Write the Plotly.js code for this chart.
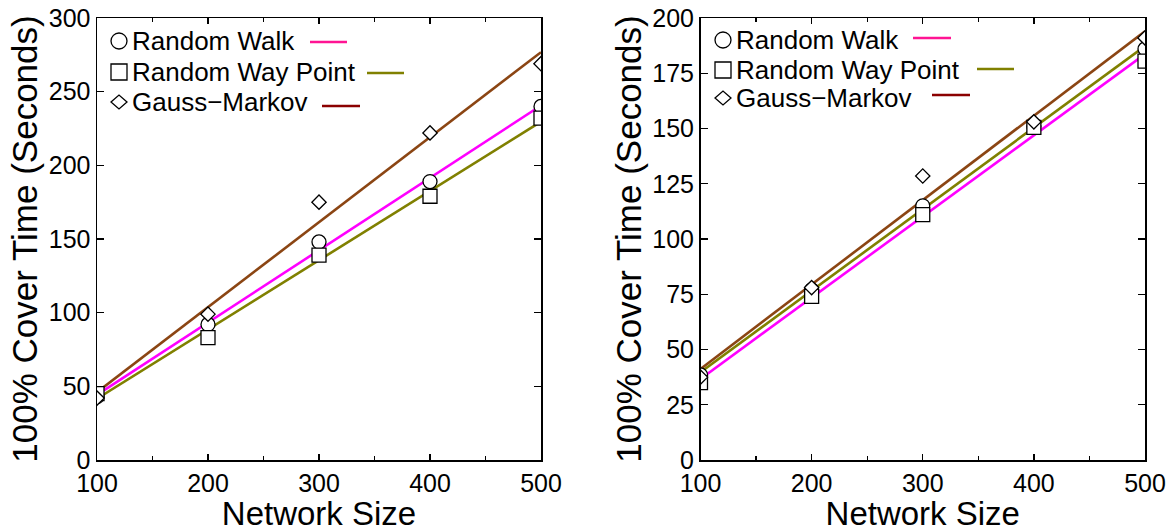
<!DOCTYPE html>
<html>
<head>
<meta charset="utf-8">
<script src="https://cdn.plot.ly/plotly-3.0.1.min.js"></script>
<style>html,body{margin:0;padding:0;background:#fff;}#chart{width:1175px;height:532px;}</style>
</head>
<body>
<div id="chart"></div>
<script>
// ---- data ----
const networkSizes = [100, 200, 300, 400, 500];
const seriesNames = ["Random Walk", "Random Way Point", "Gauss\u2212Markov"];
// left panel
const leftRandomWalk     = [43, 92, 148, 189, 240];
const leftRandomWayPoint = [45, 83, 139, 179, 232];
const leftGaussMarkov    = [42, 99, 175, 222, 269];
// right panel
const rightRandomWalk     = [38.5, 77, 115, 151, 186];
const rightRandomWayPoint = [35, 74, 111, 150.5, 180.5];
const rightGaussMarkov    = [37.5, 78, 128.5, 153, 191];
const leftYTicks = [0, 50, 100, 150, 200, 250, 300];
const rightYTicks = [0, 25, 50, 75, 100, 125, 150, 175, 200];
const xTicks = [100, 200, 300, 400, 500];

// ---- styling ----
const W = 1175, H = 532;
const px = x => x / W, py = y => 1 - y / H;
const FONT = "Liberation Sans, Arial, sans-serif";
const MAGENTA = "#ff00ff", OLIVE = "#808000", BROWN = "#8b4513";
const LEG_PINK = "#ff1493", LEG_OLIVE = "#808000", LEG_RED = "#8b0000";

function fit(xs, ys) {
  const n = xs.length;
  const mx = xs.reduce((a, b) => a + b, 0) / n;
  const my = ys.reduce((a, b) => a + b, 0) / n;
  let sxy = 0, sxx = 0;
  for (let i = 0; i < n; i++) { sxy += (xs[i] - mx) * (ys[i] - my); sxx += (xs[i] - mx) ** 2; }
  const b = sxy / sxx, a = my - b * mx;
  const xe = [xs[0], xs[n - 1]];
  return { x: xe, y: xe.map(v => a + b * v) };
}

const traces = [];
function panel(xa, ya, rw, rwp, gm, fitColors) {
  const sets = [rw, rwp, gm];
  sets.forEach((ys, i) => {
    const f = fit(networkSizes, ys);
    traces.push({ x: f.x, y: f.y, xaxis: xa, yaxis: ya, mode: "lines", showlegend: false,
      hoverinfo: "skip", line: { color: fitColors[i], width: 2.6 } });
  });
  const symbols = ["circle", "square", "diamond"];
  const msize = [14, 14, 11];
  sets.forEach((ys, i) => {
    traces.push({ x: networkSizes, y: ys, xaxis: xa, yaxis: ya, mode: "markers", name: seriesNames[i],
      showlegend: false,
      marker: { symbol: symbols[i], size: msize[i], color: "#ffffff",
        line: { color: "#000000", width: 1.3 } } });
  });
}
panel("x", "y", leftRandomWalk, leftRandomWayPoint, leftGaussMarkov, [MAGENTA, OLIVE, BROWN]);
panel("x2", "y2", rightRandomWalk, rightRandomWayPoint, rightGaussMarkov, [OLIVE, MAGENTA, BROWN]);

function xAxis(domain, anchor) {
  return {
    domain: domain, anchor: anchor, range: [100, 500], tickvals: xTicks, ticktext: xTicks.map(String),
    ticks: "inside", ticklen: 6, tickwidth: 1.3, tickcolor: "#000",
    minor: { dtick: 50, tick0: 100, ticks: "inside", ticklen: 4, tickwidth: 1.3, tickcolor: "#000" },
    showline: true, linecolor: "#000", linewidth: 1.5, mirror: "allticks",
    showgrid: false, zeroline: false, automargin: false,
    tickfont: { family: FONT, size: 25, color: "#000" },
    title: { text: "Network Size", font: { family: FONT, size: 33, color: "#000" }, standoff: 0 }
  };
}
function yAxis(range, ticks, anchor) {
  return {
    domain: [py(460), py(18)], anchor: anchor, range: range, tickvals: ticks, ticktext: ticks.map(String),
    ticks: "inside", ticklen: 7, tickwidth: 1.3, tickcolor: "#000",
    showline: true, linecolor: "#000", linewidth: 1.5, mirror: "allticks",
    showgrid: false, zeroline: false, automargin: false,
    tickfont: { family: FONT, size: 25, color: "#000" },
    title: { text: "100% Cover Time (Seconds)", font: { family: FONT, size: 35, color: "#000" }, standoff: 0 }
  };
}

// ---- hand-drawn legends (symbol, label, line sample) ----
const shapes = [], annotations = [];
function legend(symX, textX, rows, lines) {
  const r = 8;
  rows.forEach((cy, i) => {
    const st = { color: "#000", width: 1.3 };
    if (i === 0) {
      shapes.push({ type: "circle", xref: "paper", yref: "paper", x0: px(symX - r), x1: px(symX + r),
        y0: py(cy + r), y1: py(cy - r), line: st, fillcolor: "#fff" });
    } else if (i === 1) {
      shapes.push({ type: "rect", xref: "paper", yref: "paper", x0: px(symX - r), x1: px(symX + r),
        y0: py(cy + r), y1: py(cy - r), line: st, fillcolor: "#fff" });
    } else {
      const p = `M ${px(symX - r)} ${py(cy)} L ${px(symX)} ${py(cy - 7)} L ${px(symX + r)} ${py(cy)} L ${px(symX)} ${py(cy + 7)} Z`;
      shapes.push({ type: "path", xref: "paper", yref: "paper", path: p, line: st, fillcolor: "#fff" });
    }
    annotations.push({ xref: "paper", yref: "paper", x: px(textX), y: py(cy), xanchor: "left", yanchor: "middle",
      text: seriesNames[i], showarrow: false, font: { family: FONT, size: 26, color: "#000" }, borderpad: 0 });
    const ln = lines[i];
    shapes.push({ type: "line", xref: "paper", yref: "paper", x0: px(ln[0]), x1: px(ln[1]), y0: py(ln[2]), y1: py(ln[2]),
      line: { color: ln[3], width: 2.6 } });
  });
}
legend(119, 131, [41, 72, 102], [[310, 347, 42, LEG_PINK], [367, 404, 73, LEG_OLIVE], [322, 360, 106, LEG_RED]]);
legend(723, 735, [40, 70, 98], [[913, 951, 38, LEG_PINK], [977, 1014, 69, LEG_OLIVE], [932, 970, 95, LEG_RED]]);

const layout = {
  width: W, height: H, margin: { l: 0, r: 0, t: 0, b: 0 },
  paper_bgcolor: "#fff", plot_bgcolor: "#fff", showlegend: false,
  font: { family: FONT, color: "#000" },
  xaxis: xAxis([px(97), px(541)], "y"),
  yaxis: yAxis([0, 300], leftYTicks, "x"),
  xaxis2: xAxis([px(700.5), px(1145)], "y2"),
  yaxis2: yAxis([0, 200], rightYTicks, "x2"),
  shapes: shapes, annotations: annotations
};
Plotly.newPlot("chart", traces, layout, { staticPlot: true, displayModeBar: false });
</script>
</body>
</html>
